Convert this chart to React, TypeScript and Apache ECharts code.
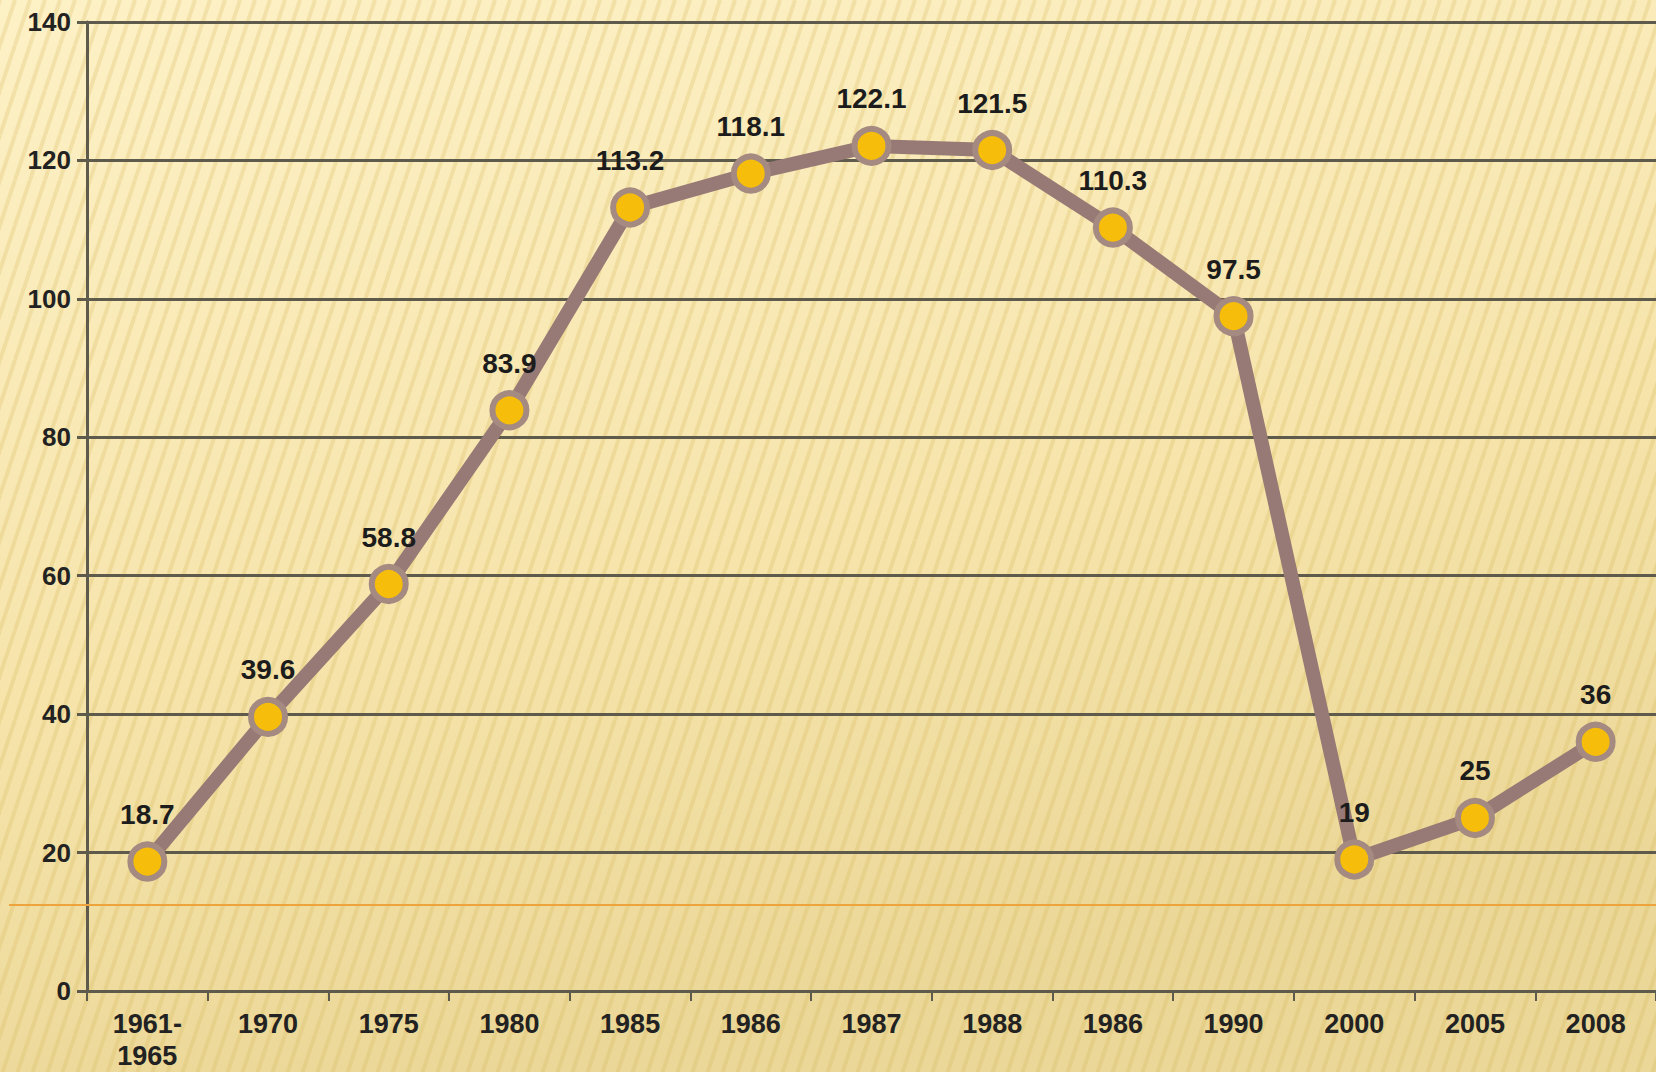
import React, { useEffect, useRef } from "react";
import * as echarts from "echarts";

const categories = ["1961-\n1965", "1970", "1975", "1980", "1985", "1986", "1987", "1988", "1986", "1990", "2000", "2005", "2008"];
const values = [18.7, 39.6, 58.8, 83.9, 113.2, 118.1, 122.1, 121.5, 110.3, 97.5, 19, 25, 36];
const yTicks = { min: 0, max: 140, interval: 20 };

function makeStripes(): HTMLCanvasElement {
  const c = document.createElement("canvas");
  const w = 15, h = 45;
  c.width = w;
  c.height = h;
  const ctx = c.getContext("2d")!;
  ctx.strokeStyle = "rgba(214,180,90,0.26)";
  ctx.lineWidth = 4;
  for (const x0 of [-w, 0, w]) {
    ctx.beginPath();
    ctx.moveTo(x0, h);
    ctx.lineTo(x0 + w, 0);
    ctx.stroke();
  }
  return c;
}

export default function App() {
  const ref = useRef<HTMLDivElement>(null);
  useEffect(() => {
    if (!ref.current) return;
    const chart = echarts.init(ref.current, undefined, { renderer: "svg" });
    const font = "'Liberation Sans', Arial, sans-serif";
    const gridLine = "#5e5a4c";
    chart.setOption({
      animation: false,
      backgroundColor: {
        type: "linear", x: 0, y: 0, x2: 0.3, y2: 1,
        colorStops: [
          { offset: 0, color: "#fdf1c6" },
          { offset: 0.6, color: "#f6e4ab" },
          { offset: 1, color: "#ebd797" },
        ],
      },
      graphic: [
        {
          type: "rect",
          z: -10,
          silent: true,
          shape: { x: 0, y: 0, width: 1656, height: 1072 },
          style: { fill: { image: makeStripes(), repeat: "repeat" } as any },
        },
        {
          type: "line",
          z: 1,
          silent: true,
          shape: { x1: 9, y1: 905, x2: 1656, y2: 905 },
          style: { stroke: "#eda43c", lineWidth: 2 },
        },
      ],
      grid: { left: 87, top: 22, width: 1576, height: 972, containLabel: false },
      xAxis: {
        type: "category",
        data: categories,
        boundaryGap: true,
        axisLine: { show: true, lineStyle: { color: gridLine, width: 3 } },
        axisTick: { show: true, alignWithLabel: false, length: 10, lineStyle: { color: gridLine, width: 2 } },
        axisLabel: {
          color: "#222",
          fontSize: 27,
          fontWeight: "bold",
          fontFamily: font,
          margin: 17,
          lineHeight: 32,
          interval: 0,
        },
        splitLine: { show: false },
      },
      yAxis: {
        type: "value",
        min: yTicks.min,
        max: yTicks.max,
        interval: yTicks.interval,
        axisLine: { show: true, lineStyle: { color: gridLine, width: 3 } },
        axisTick: { show: true, length: 10, lineStyle: { color: gridLine, width: 3 } },
        axisLabel: {
          color: "#222",
          fontSize: 26,
          fontWeight: "bold",
          fontFamily: font,
          margin: 16,
        },
        splitLine: { show: true, lineStyle: { color: gridLine, width: 3 } },
      },
      series: [
        {
          type: "line",
          data: values,
          symbol: "circle",
          symbolSize: 34,
          lineStyle: { color: "#977a75", width: 14 },
          itemStyle: { color: "#f6bd0a", borderColor: "#a48a80", borderWidth: 6 },
          label: {
            show: true,
            position: "top",
            distance: 13,
            color: "#1c1c1c",
            fontSize: 28,
            fontWeight: "bold",
            fontFamily: font,
          },
          z: 3,
        },
      ],
    });
    return () => chart.dispose();
  }, []);
  return (
    <div
      ref={ref}
      style={{ position: "absolute", left: 0, top: 0, width: 1656, height: 1072 }}
    />
  );
}
